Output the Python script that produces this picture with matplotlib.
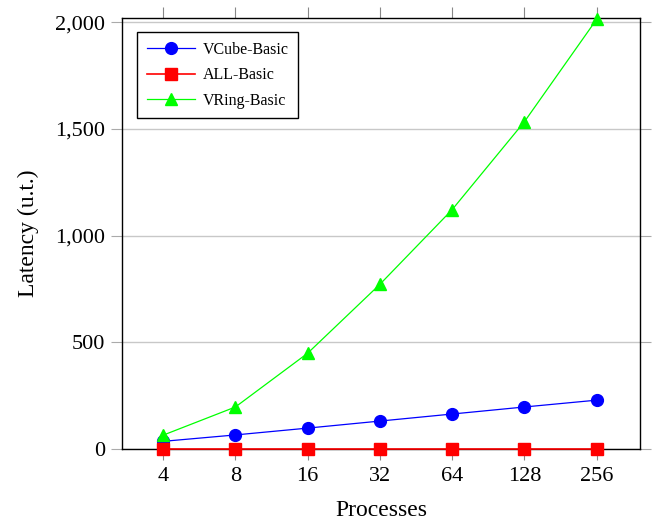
import numpy as np
import matplotlib
matplotlib.use("Agg")
import matplotlib.pyplot as plt
from matplotlib.ticker import FuncFormatter

processes = ["4", "8", "16", "32", "64", "128", "256"]
vcube_basic = [36, 66, 98, 131, 164, 197, 229]
all_basic = [1, 1, 1, 1, 1, 1, 1]
vring_basic = [65, 197, 449, 772, 1122, 1534, 2014]

plt.rcParams["font.family"] = ["Liberation Serif", "DejaVu Serif"]

fig = plt.figure(figsize=(6.53, 5.29), dpi=100)
ax = fig.add_axes([0.1868, 0.1512, 0.7933, 0.8147])

x = np.arange(len(processes))
ax.plot(x, vcube_basic, "-o", color="blue", lw=0.9, markersize=8.5, label="VCube-Basic", clip_on=False, zorder=3)
ax.plot(x, all_basic, "-s", color="red", lw=1.2, markersize=8.5, label="ALL-Basic", clip_on=False, zorder=4)
ax.plot(x, vring_basic, "-^", color="#00ff00", lw=0.9, markersize=8.5, label="VRing-Basic", clip_on=False, zorder=3)

ax.set_xlim(-0.57, 6.6)
ax.set_ylim(0, 2020)
ax.set_xticks(x)
ax.set_xticklabels(processes)
ax.set_yticks([0, 500, 1000, 1500, 2000])
ax.yaxis.set_major_formatter(FuncFormatter(lambda v, p: f"{int(v):,}"))

ax.grid(axis="y", color="#c8c8c8", lw=1)
ax.set_axisbelow(True)
ax.tick_params(axis="x", which="both", top=True, bottom=True, direction="out",
               length=8, color="#888888", labelsize=16, pad=5)
ax.tick_params(axis="y", which="both", left=True, right=True, direction="out",
               length=8, color="#aaaaaa", labelsize=16, pad=4)
for s in ax.spines.values():
    s.set_color("black")
    s.set_linewidth(1)

ax.set_xlabel("Processes", fontsize=17, labelpad=10)
ax.set_ylabel("Latency (u.t.)", fontsize=17, labelpad=12)

leg = ax.legend(loc="upper left", bbox_to_anchor=(0.029, 0.9675), borderaxespad=0,
                fontsize=11.5, handlelength=3, handletextpad=0.5, fancybox=False,
                framealpha=1, edgecolor="black", labelspacing=0.6, borderpad=0.6)
leg.get_frame().set_linewidth(1)

fig.savefig("out.png", dpi=100)
